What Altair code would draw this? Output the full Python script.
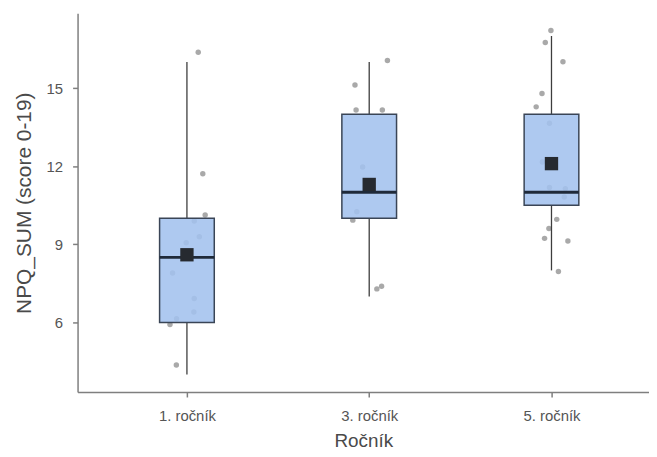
import altair as alt
import pandas as pd

# Box statistics per group (x position 1,2,3)
groups = [1, 2, 3]
group_labels = ["1. ročník", "3. ročník", "5. ročník"]
q1 = [6.0, 10.0, 10.5]
median = [8.5, 11.0, 11.0]
q3 = [10.0, 14.0, 14.0]
lower = [4.0, 7.0, 8.0]
upper = [16.0, 16.0, 17.0]
mean = [8.6, 11.3, 12.1]

# Jittered points: group, horizontal jitter (category units), value
pt_group = [1] * 12 + [2] * 9 + [3] * 15
pt_jitter = [0.062, 0.087, 0.10, 0.04, 0.068, -0.004, -0.079, 0.04, 0.038, -0.057, -0.093, -0.058,
             0.10, -0.078, -0.072, 0.072, -0.036, -0.068, -0.09, 0.042, 0.068,
             -0.003, -0.034, 0.063, -0.052, -0.084, -0.011, -0.05, -0.011, 0.076, 0.07, 0.029, -0.014, -0.038, 0.09, 0.038]
pt_value = [16.38, 11.71, 10.13, 9.9, 9.29, 9.06, 7.9, 6.92, 6.4, 6.14, 5.92, 4.37,
            16.06, 15.12, 14.16, 14.16, 11.97, 10.25, 9.93, 7.29, 7.39,
            17.21, 16.75, 16.01, 14.79, 14.28, 13.65, 12.16, 11.18, 11.14, 10.82, 9.96, 9.61, 9.23, 9.13, 7.96]

boxes = pd.DataFrame({"g": groups, "label": group_labels, "q1": q1, "median": median,
                      "q3": q3, "lower": lower, "upper": upper, "mean": mean})
points = pd.DataFrame({"g": pt_group, "jit": pt_jitter[:len(pt_group)], "v": pt_value})

FONT = "Liberation Sans"
xscale = alt.Scale(domain=[0.4, 3.535], nice=False, zero=False)
yscale = alt.Scale(domain=[3.33, 17.87], nice=False, zero=False)

xaxis = alt.Axis(values=[1, 2, 3], title="Ročník",
                 labelExpr="datum.value == 1 ? '1. ročník' : datum.value == 2 ? '3. ročník' : '5. ročník'",
                 grid=False, labelFontSize=15, labelColor="#555555", labelFont=FONT,
                 titleFontSize=19, titleColor="#4a4a4a", titleFont=FONT, titleFontWeight="normal",
                 tickSize=5, tickColor="#7f7f7f", tickWidth=1.5, domainColor="#7f7f7f", domainWidth=1.5,
                 labelPadding=12, titlePadding=8)
yaxis = alt.Axis(values=[6, 9, 12, 15], title="NPQ_SUM (score 0-19)",
                 grid=False, labelFontSize=15, labelColor="#555555", labelFont=FONT,
                 titleFontSize=21, titleColor="#4a4a4a", titleFont=FONT, titleFontWeight="normal",
                 tickSize=5, tickColor="#7f7f7f", tickWidth=1.5, domainColor="#7f7f7f", domainWidth=1.5,
                 labelPadding=10, titlePadding=12)

pts = alt.Chart(points).transform_calculate(px="datum.g + datum.jit").mark_circle(
    size=30, color="#9a9a9a", opacity=0.85
).encode(x=alt.X("px:Q", scale=xscale, axis=xaxis), y=alt.Y("v:Q", scale=yscale, axis=yaxis))

base = alt.Chart(boxes).transform_calculate(lo="datum.g - 0.15", hi="datum.g + 0.15")

wh_low = base.mark_rule(color="#3d3d3d", strokeWidth=1.3).encode(
    x=alt.X("g:Q", scale=xscale), y=alt.Y("lower:Q", scale=yscale), y2="q1:Q")
wh_up = base.mark_rule(color="#3d3d3d", strokeWidth=1.3).encode(
    x=alt.X("g:Q", scale=xscale), y=alt.Y("q3:Q", scale=yscale), y2="upper:Q")

box = base.mark_rect(fill="#a3c1ee", fillOpacity=0.88, stroke="#3a4556", strokeWidth=1.5).encode(
    x=alt.X("lo:Q", scale=xscale), x2="hi:Q", y=alt.Y("q1:Q", scale=yscale), y2="q3:Q")

med = base.mark_rule(color="#1f2a3a", strokeWidth=3).encode(
    x=alt.X("lo:Q", scale=xscale), x2="hi:Q", y=alt.Y("median:Q", scale=yscale))

mn = base.mark_square(size=180, color="#262a30", opacity=1).encode(
    x=alt.X("g:Q", scale=xscale), y=alt.Y("mean:Q", scale=yscale))

chart = alt.layer(pts, wh_low, wh_up, box, med, mn).properties(
    width=575, height=381,
    autosize=alt.AutoSizeParams(type="none"),
    padding={"left": 70, "top": 4, "right": 0, "bottom": 63},
    background="white",
).configure_view(stroke=None)

chart.save("out.html", embed_options={"renderer": "svg", "actions": False})
